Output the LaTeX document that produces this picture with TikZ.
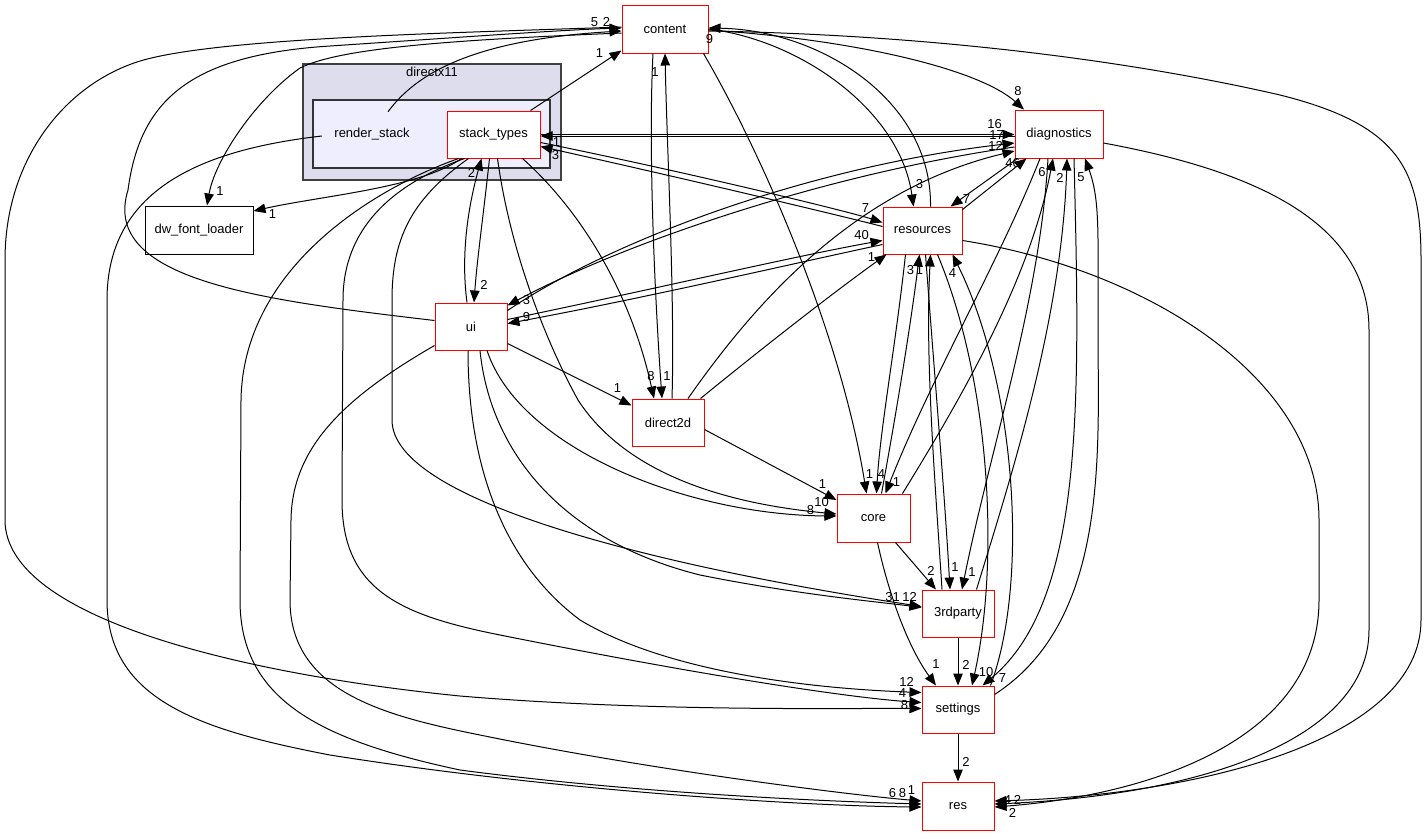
\documentclass[tikz,border=0pt]{standalone}
\usepackage{fontspec}
\setmainfont{Liberation Sans}
\usepackage{tikz}
\usetikzlibrary{arrows.meta,calc}

\definecolor{clusterfill}{RGB}{221,221,238}
\definecolor{innerfill}{RGB}{238,238,255}
\definecolor{clusterline}{RGB}{64,64,64}

\tikzset{
	dirbox/.style={draw=red, fill=white, line width=1pt, minimum width=#1, minimum height=47pt, inner sep=0pt},
	dirbox/.default=72pt,
	clusterbox/.style={draw=clusterline, fill=clusterfill, line width=1.3pt, inner sep=0pt},
	innerbox/.style={draw=black!80, fill=innerfill, line width=1.1pt, inner sep=0pt},
	dep/.style={-{Triangle[length=12pt,width=9.5pt]}, line width=1pt},
	num/.style={inner sep=0pt}
}

\begin{document}
\begin{tikzpicture}[x=1pt, y=-1pt, font=\fontsize{13}{15}\selectfont]
	\useasboundingbox (0,0) rectangle (1427,836);

	% directx11 cluster
	\node[clusterbox, minimum width=258pt, minimum height=116pt] (directx11) at (432,122) {};
	\node[anchor=north, inner sep=4pt] (directx11label) at (directx11.north) {directx11};
	\node[innerbox, minimum width=237pt, minimum height=68pt] (renderstackbox) at (431.5,134) {};
	\node[minimum width=100pt, minimum height=44pt, inner sep=0pt] (renderstack) at (372,134) {render\_stack};

	\node[dirbox=86pt, minimum height=48pt] (content) at (665,29) {content};
	\node[dirbox=88pt, minimum height=48pt] (diagnostics) at (1059,134) {diagnostics};
	\node[dirbox=93pt] (stacktypes) at (493.5,134.5) {stack\_types};
	\node[dirbox=79pt] (resources) at (922.5,230.5) {resources};
	\node[dirbox] (ui) at (471,326.5) {ui};
	\node[dirbox] (direct2d) at (668,422.5) {direct2d};
	\node[dirbox=73pt, minimum height=48pt] (core) at (873.5,518) {core};
	\node[dirbox] (thirdparty) at (958,613.5) {3rdparty};
	\node[dirbox] (settings) at (958,709.5) {settings};
	\node[dirbox, minimum height=48pt] (res) at (958,806) {res};
	\node[dirbox=108pt, minimum height=48pt, draw=black] (dwfontloader) at (199,230) {dw\_font\_loader};

	% render_stack
	\draw[dep] ($(renderstack.north)+(16,0)$) .. controls (415,75) and (470,40) .. ($(content.west)+(0,2)$) node[num, shift={(-27,-9)}] {5};
	\draw[dep] ($(renderstack.west)+(0,2)$) .. controls (200,150) and (107,190) .. (107,300) -- (107,600) .. controls (107,700) and (200,730) .. (330,755) .. controls (550,790) and (800,806) .. ($(res.west)+(0,1)$) node[num, shift={(-29,-14)}] {6};

	% content
	\draw[dep] ($(content.west)+(0,4)$) .. controls (450,40) and (340,48) .. (300,68) .. controls (255,100) and (215,160) .. ($(dwfontloader.north)+(8,0)$) node[num, shift={(13,-14)}] {1};
	\draw[dep] ($(content.west)+(0,-2)$) .. controls (450,33) and (210,38) .. (137,62) .. controls (64,86) and (5,160) .. (5,260) -- (5,520) .. controls (5,620) and (250,675) .. (460,696) .. controls (650,712) and (850,708) .. ($(settings.west)+(0,-1)$) node[num, shift={(-17,-3)}] {8};
	\draw[dep] (content.east) .. controls (800,40) and (900,110) .. ($(resources.north)+(-9,0)$) node[num, shift={(6,-22)}] {3};
	\draw[dep] ($(content.east)+(0,1)$) .. controls (860,40) and (980,70) .. ($(diagnostics.north)+(-35,0)$) node[num, shift={(-6,-18)}] {8};
	\draw[dep] ($(content.east)+(0,2)$) .. controls (950,35) and (1150,65) .. (1280,95) .. controls (1400,125) and (1421,170) .. (1421,260) -- (1421,620) .. controls (1421,740) and (1200,795) .. ($(res.east)+(0,-5)$) node[num, shift={(13,-1)}] {4};
	\draw[dep] ($(content.south east)+(-5,0)$) .. controls (760,150) and (840,330) .. ($(core.north)+(-7,0)$) node[num, shift={(3,-19)}] {1};
	\draw[dep] ($(content.south)+(-12,0)$) .. controls (648,150) and (655,300) .. ($(direct2d.north)+(-6,0)$) node[num, shift={(5,-22)}] {1};

	% stack_types
	\draw[dep] ($(stacktypes.north east)+(-10,0)$) -- ($(content.south west)+(0,-3)$) node[num, shift={(-22,3)}] {1};
	\draw[dep] ($(stacktypes.south west)+(15,0)$) .. controls (420,188) and (320,196) .. ($(dwfontloader.east)+(0,-19)$) node[num, shift={(19,3)}] {1};
	\draw[dep] (stacktypes.east) -- (stacktypes.east -| diagnostics.west) node[num, shift={(-20,-10)}] {16};
	\draw[dep] ($(diagnostics.west)+(0,2)$) -- ($(stacktypes.east)+(0,1.5)$) node[num, shift={(16,6)}] {1};
	\draw[dep] ($(stacktypes.east)+(0,8)$) .. controls (700,175) and (850,212) .. ($(resources.west)+(0,-8)$) node[num, shift={(-17,-14)}] {7};
	\draw[dep] ($(stacktypes.south)+(-4,0)$) .. controls (484,210) and (477,260) .. ($(ui.north)+(3,0)$) node[num, shift={(10,-18)}] {2};
	\draw[dep] ($(stacktypes.south east)+(-18,0)$) .. controls (580,210) and (630,290) .. ($(direct2d.north)+(-14,0)$) node[num, shift={(-3,-22)}] {8};
	\draw[dep] ($(stacktypes.south)+(4,0)$) .. controls (510,250) and (545,340) .. (578,400) .. controls (630,480) and (740,505) .. ($(core.west)+(0,-4)$) node[num, shift={(-15,-12)}] {10};
	\draw[dep] ($(stacktypes.south west)+(22,0)$) .. controls (410,200) and (392,240) .. (392,300) -- (392,420) .. controls (392,500) and (650,565) .. ($(thirdparty.west)+(0,-7)$) node[num, shift={(-12,-10)}] {12};
	\draw[dep] ($(stacktypes.south west)+(18,0)$) .. controls (390,185) and (343,230) .. (343,300) -- (342,500) .. controls (342,590) and (400,615) .. (500,635) .. controls (700,675) and (850,698) .. ($(settings.west)+(0,-7)$) node[num, shift={(-19,-9)}] {4};
	\draw[dep] ($(stacktypes.south west)+(12,0)$) .. controls (370,190) and (243,270) .. (241,400) -- (240,600) .. controls (240,700) and (320,740) .. (460,770) .. controls (650,795) and (850,802) .. ($(res.west)+(0,-2)$) node[num, shift={(-10,-14)}] {1};

	% ui
	\draw[dep] ($(ui.west)+(0,-6)$) .. controls (260,300) and (100,280) .. (128,190) .. controls (140,100) and (190,55) .. (330,46) .. controls (450,38) and (560,30) .. ($(content.west)+(0,-1)$) node[num, shift={(-15,-6)}] {2};
	\draw[dep] ($(ui.north)+(-4,0)$) .. controls (460,250) and (470,200) .. ($(stacktypes.south)+(-12,0)$) node[num, shift={(-10,14)}] {2};
	\draw[dep] ($(ui.east)+(0,-7)$) .. controls (650,290) and (800,255) .. ($(resources.west)+(0,10)$) node[num, shift={(-21,-5)}] {40};
	\draw[dep] ($(ui.north east)+(0,8)$) .. controls (620,235) and (820,165) .. ($(diagnostics.west)+(0,9)$) node[num, shift={(-18,-8)}] {17};
	\draw[dep] ($(ui.south east)+(0,-7)$) -- ($(direct2d.west)+(0,-17)$) node[num, shift={(-14,-17)}] {1};
	\draw[dep] ($(ui.south)+(16,0)$) .. controls (520,450) and (690,515) .. ($(core.west)+(0,-2)$) node[num, shift={(-26,-6)}] {8};
	\draw[dep] ($(ui.south)+(9,0)$) .. controls (490,450) and (560,540) .. (700,575) .. controls (800,595) and (880,602) .. ($(thirdparty.west)+(0,-6)$) node[num, shift={(-29,-10)}] {31};
	\draw[dep] ($(ui.south)+(-3,0)$) .. controls (468,460) and (500,560) .. (580,620) .. controls (680,680) and (850,690) .. ($(settings.west)+(0,-17)$) node[num, shift={(-15,-11)}] {12};
	\draw[dep] ($(ui.south west)+(0,-5)$) .. controls (340,400) and (292,450) .. (291,520) -- (290,600) .. controls (290,690) and (380,715) .. (480,735) .. controls (650,770) and (850,795) .. ($(res.west)+(0,-5)$) node[num, shift={(-19,-8)}] {8};

	% direct2d
	\draw[dep] ($(direct2d.north)+(4,0)$) .. controls (675,300) and (667,150) .. (content.south) node[num, shift={(-10,19)}] {1};
	\draw[dep] ($(direct2d.north east)+(-4,0)$) .. controls (760,350) and (830,295) .. ($(resources.south west)+(4,0)$) node[num, shift={(-15,3)}] {1};
	\draw[dep] ($(direct2d.north)+(20,0)$) .. controls (750,310) and (850,190) .. ($(diagnostics.west)+(0,17)$) node[num, shift={(-19,-5)}] {12};
	\draw[dep] ($(direct2d.east)+(0,7)$) -- ($(core.west)+(0,-18)$) node[num, shift={(-14,-16)}] {1};

	% resources
	\draw[dep] ($(resources.north)+(8,0)$) .. controls (932,100) and (820,30) .. ($(content.east)+(0,-1)$) node[num, shift={(1,11)}] {9};
	\draw[dep] ($(resources.west)+(0,-4)$) .. controls (850,218) and (700,182) .. ($(stacktypes.east)+(0,12)$) node[num, shift={(15,9)}] {3};
	\draw[dep] ($(resources.west)+(0,14)$) .. controls (800,262) and (650,297) .. ($(ui.east)+(0,-3)$) node[num, shift={(19,-6)}] {9};
	\draw[dep] ($(resources.north east)+(0,3)$) -- ($(diagnostics.south west)+(12,0)$) node[num, shift={(-14,5)}] {46};
	\draw[dep] ($(resources.south)+(-17,0)$) .. controls (895,350) and (880,430) .. ($(core.north)+(3,0)$) node[num, shift={(5,-19)}] {4};
	\draw[dep] ($(resources.south)+(3,0)$) .. controls (935,380) and (945,500) .. ($(thirdparty.north)+(-8,0)$) node[num, shift={(5,-22)}] {1};
	\draw[dep] ($(resources.south)+(15,0)$) .. controls (990,380) and (1000,560) .. ($(settings.north)+(14,0)$) node[num, shift={(14,-13)}] {10};
	\draw[dep] ($(resources.east)+(0,10)$) .. controls (1150,270) and (1319,380) .. (1319,520) -- (1319,600) .. controls (1319,740) and (1150,795) .. ($(res.east)+(0,1)$) node[num, shift={(18,6)}] {2};

	% diagnostics
	\draw[dep] ($(diagnostics.west)+(0,13)$) .. controls (820,175) and (620,245) .. ($(ui.north east)+(0,3)$) node[num, shift={(19,-5)}] {3};
	\draw[dep] ($(diagnostics.south west)+(3,0)$) -- ($(resources.north east)+(-12,0)$) node[num, shift={(16,-7)}] {7};
	\draw[dep] ($(diagnostics.south)+(-19,0)$) .. controls (1000,260) and (930,380) .. ($(core.north)+(12,0)$) node[num, shift={(11,-11)}] {1};
	\draw[dep] ($(diagnostics.south)+(-11,0)$) .. controls (1040,300) and (990,450) .. ($(thirdparty.north)+(4,0)$) node[num, shift={(10,-17)}] {1};
	\draw[dep] ($(diagnostics.south)+(15,0)$) .. controls (1080,400) and (1085,600) .. ($(settings.north east)+(-12,0)$) node[num, shift={(20,-7)}] {7};
	\draw[dep] ($(diagnostics.east)+(0,9)$) .. controls (1250,170) and (1369,220) .. (1369,330) -- (1369,630) .. controls (1369,740) and (1200,795) .. ($(res.east)+(0,-2)$) node[num, shift={(23,-4)}] {2};

	% core, 3rdparty, settings
	\draw[dep] ($(core.north)+(8,0)$) .. controls (895,420) and (910,330) .. ($(resources.south)+(-3,0)$) node[num, shift={(-9,16)}] {3};
	\draw[dep] ($(core.north east)+(-8,0)$) .. controls (960,400) and (1030,280) .. ($(diagnostics.south)+(-6,0)$) node[num, shift={(-11,14)}] {6};
	\draw[dep] ($(core.south east)+(-15,0)$) -- ($(thirdparty.north)+(-22,0)$) node[num, shift={(-5,-19)}] {2};
	\draw[dep] ($(core.south)+(4,0)$) .. controls (890,600) and (910,650) .. ($(settings.north)+(-22,0)$) node[num, shift={(0,-21)}] {1};
	\draw[dep] ($(thirdparty.north)+(-16,0)$) .. controls (935,480) and (925,360) .. ($(resources.south)+(8,0)$) node[num, shift={(-11,16)}] {1};
	\draw[dep] ($(thirdparty.north east)+(-18,0)$) .. controls (1010,480) and (1062,320) .. ($(diagnostics.south)+(8,0)$) node[num, shift={(-7,19)}] {2};
	\draw[dep] (thirdparty.south) -- (settings.north) node[num, shift={(8,-21)}] {2};
	\draw[dep] ($(settings.north east)+(-4,0)$) .. controls (1030,580) and (1015,380) .. ($(resources.south east)+(-10,0)$) node[num, shift={(0,19)}] {4};
	\draw[dep] ($(settings.east)+(0,-15)$) .. controls (1110,620) and (1098,450) .. (1098,330) .. controls (1098,230) and (1100,200) .. ($(diagnostics.south)+(26,0)$) node[num, shift={(-4,19)}] {5};
	\draw[dep] (settings.south) -- (res.north) node[num, shift={(8,-20)}] {2};
\end{tikzpicture}
\end{document}
